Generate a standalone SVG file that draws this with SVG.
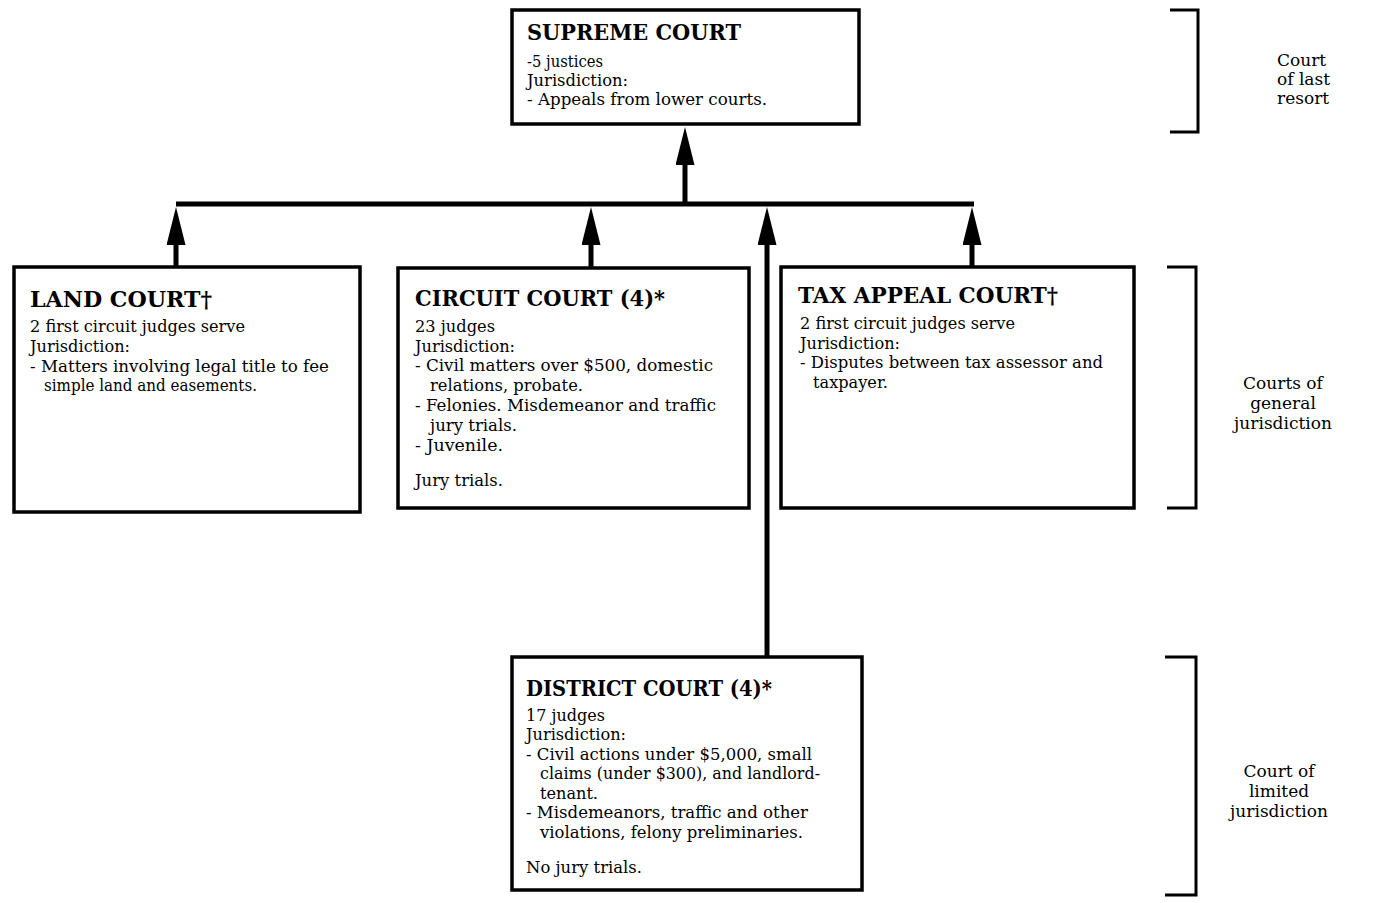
<svg xmlns="http://www.w3.org/2000/svg" width="1386" height="903" viewBox="0 0 1386 903">
<style>
.box{fill:#fff;stroke:#000;stroke-width:3.5}
.t{font-family:"DejaVu Serif","Liberation Serif",serif;font-weight:bold;font-size:23px;fill:#000}
.b{font-family:"DejaVu Serif","Liberation Serif",serif;font-size:16.5px;fill:#000}
.lbl{font-family:"DejaVu Serif","Liberation Serif",serif;font-size:17px;fill:#000}
.conn{stroke:#000;stroke-width:5;fill:none}
.br{stroke:#000;stroke-width:3;fill:none}
</style>
<defs>
<marker id="ah" markerUnits="userSpaceOnUse" markerWidth="38" markerHeight="19" viewBox="0 0 38 19" refX="14" refY="9.5" orient="auto">
<path d="M0,0 L38,9.5 L0,19 z" fill="#000"/>
</marker>
</defs>
<rect width="1386" height="903" fill="#fff"/>

<g id="connectors">
<path class="conn" d="M176,204 H974"/>
<path class="conn" d="M685,202 V151" marker-end="url(#ah)"/>
<path class="conn" d="M176,266 V231" marker-end="url(#ah)"/>
<path class="conn" d="M591,267 V231" marker-end="url(#ah)"/>
<path class="conn" d="M972,266 V231" marker-end="url(#ah)"/>
<path class="conn" d="M767,656 V231" marker-end="url(#ah)"/>
</g>

<g id="supreme-court">
<rect class="box" x="512" y="10" width="347" height="114"/>
<text class="t" x="527" y="40" textLength="214" lengthAdjust="spacingAndGlyphs">SUPREME COURT</text>
<text class="b" x="527" y="67" textLength="76" lengthAdjust="spacingAndGlyphs">-5 justices</text>
<text class="b" x="527" y="86" textLength="101" lengthAdjust="spacingAndGlyphs">Jurisdiction:</text>
<text class="b" x="527" y="105" textLength="240" lengthAdjust="spacingAndGlyphs">- Appeals from lower courts.</text>
</g>

<g id="land-court">
<rect class="box" x="14" y="267" width="346" height="245"/>
<text class="t" x="30" y="307" textLength="182" lengthAdjust="spacingAndGlyphs">LAND COURT†</text>
<text class="b" x="30" y="332" textLength="215" lengthAdjust="spacingAndGlyphs">2 first circuit judges serve</text>
<text class="b" x="30" y="352" textLength="100" lengthAdjust="spacingAndGlyphs">Jurisdiction:</text>
<text class="b" x="30" y="372" textLength="299" lengthAdjust="spacingAndGlyphs">- Matters involving legal title to fee</text>
<text class="b" x="44" y="391" textLength="213" lengthAdjust="spacingAndGlyphs">simple land and easements.</text>
</g>

<g id="circuit-court">
<rect class="box" x="398" y="268" width="351" height="240"/>
<text class="t" x="415" y="306" textLength="250" lengthAdjust="spacingAndGlyphs">CIRCUIT COURT (4)*</text>
<text class="b" x="415" y="332" textLength="80" lengthAdjust="spacingAndGlyphs">23 judges</text>
<text class="b" x="415" y="352" textLength="100" lengthAdjust="spacingAndGlyphs">Jurisdiction:</text>
<text class="b" x="415" y="371" textLength="298" lengthAdjust="spacingAndGlyphs">- Civil matters over $500, domestic</text>
<text class="b" x="430" y="391" textLength="153" lengthAdjust="spacingAndGlyphs">relations, probate.</text>
<text class="b" x="415" y="411" textLength="301" lengthAdjust="spacingAndGlyphs">- Felonies. Misdemeanor and traffic</text>
<text class="b" x="430" y="431" textLength="87" lengthAdjust="spacingAndGlyphs">jury trials.</text>
<text class="b" x="415" y="451" textLength="88" lengthAdjust="spacingAndGlyphs">- Juvenile.</text>
<text class="b" x="415" y="486" textLength="88" lengthAdjust="spacingAndGlyphs">Jury trials.</text>
</g>

<g id="tax-appeal-court">
<rect class="box" x="781" y="267" width="353" height="241"/>
<text class="t" x="798" y="303" textLength="260" lengthAdjust="spacingAndGlyphs">TAX APPEAL COURT†</text>
<text class="b" x="800" y="329" textLength="215" lengthAdjust="spacingAndGlyphs">2 first circuit judges serve</text>
<text class="b" x="800" y="349" textLength="100" lengthAdjust="spacingAndGlyphs">Jurisdiction:</text>
<text class="b" x="800" y="368" textLength="303" lengthAdjust="spacingAndGlyphs">- Disputes between tax assessor and</text>
<text class="b" x="813" y="388" textLength="75" lengthAdjust="spacingAndGlyphs">taxpayer.</text>
</g>

<g id="district-court">
<rect class="box" x="512" y="657" width="350" height="233"/>
<text class="t" x="526" y="696" textLength="246" lengthAdjust="spacingAndGlyphs">DISTRICT COURT (4)*</text>
<text class="b" x="526" y="721" textLength="79" lengthAdjust="spacingAndGlyphs">17 judges</text>
<text class="b" x="526" y="740" textLength="100" lengthAdjust="spacingAndGlyphs">Jurisdiction:</text>
<text class="b" x="526" y="760" textLength="286" lengthAdjust="spacingAndGlyphs">- Civil actions under $5,000, small</text>
<text class="b" x="540" y="779" textLength="280" lengthAdjust="spacingAndGlyphs">claims (under $300), and landlord-</text>
<text class="b" x="540" y="799" textLength="58" lengthAdjust="spacingAndGlyphs">tenant.</text>
<text class="b" x="526" y="818" textLength="282" lengthAdjust="spacingAndGlyphs">- Misdemeanors, traffic and other</text>
<text class="b" x="540" y="838" textLength="263" lengthAdjust="spacingAndGlyphs">violations, felony preliminaries.</text>
<text class="b" x="526" y="873" textLength="116" lengthAdjust="spacingAndGlyphs">No jury trials.</text>
</g>

<g id="bracket-last-resort">
<path class="br" d="M1170,10 H1198 V132 H1170"/>
<text class="lbl" x="1277" y="66">Court</text>
<text class="lbl" x="1277" y="85">of last</text>
<text class="lbl" x="1277" y="104">resort</text>
</g>

<g id="bracket-general">
<path class="br" d="M1167,267 H1196 V508 H1167"/>
<text class="lbl" x="1283" y="389" text-anchor="middle">Courts of</text>
<text class="lbl" x="1283" y="409" text-anchor="middle">general</text>
<text class="lbl" x="1283" y="429" text-anchor="middle">jurisdiction</text>
</g>

<g id="bracket-limited">
<path class="br" d="M1165,657 H1196 V895 H1165"/>
<text class="lbl" x="1279" y="777" text-anchor="middle">Court of</text>
<text class="lbl" x="1279" y="797" text-anchor="middle">limited</text>
<text class="lbl" x="1279" y="817" text-anchor="middle">jurisdiction</text>
</g>
</svg>
